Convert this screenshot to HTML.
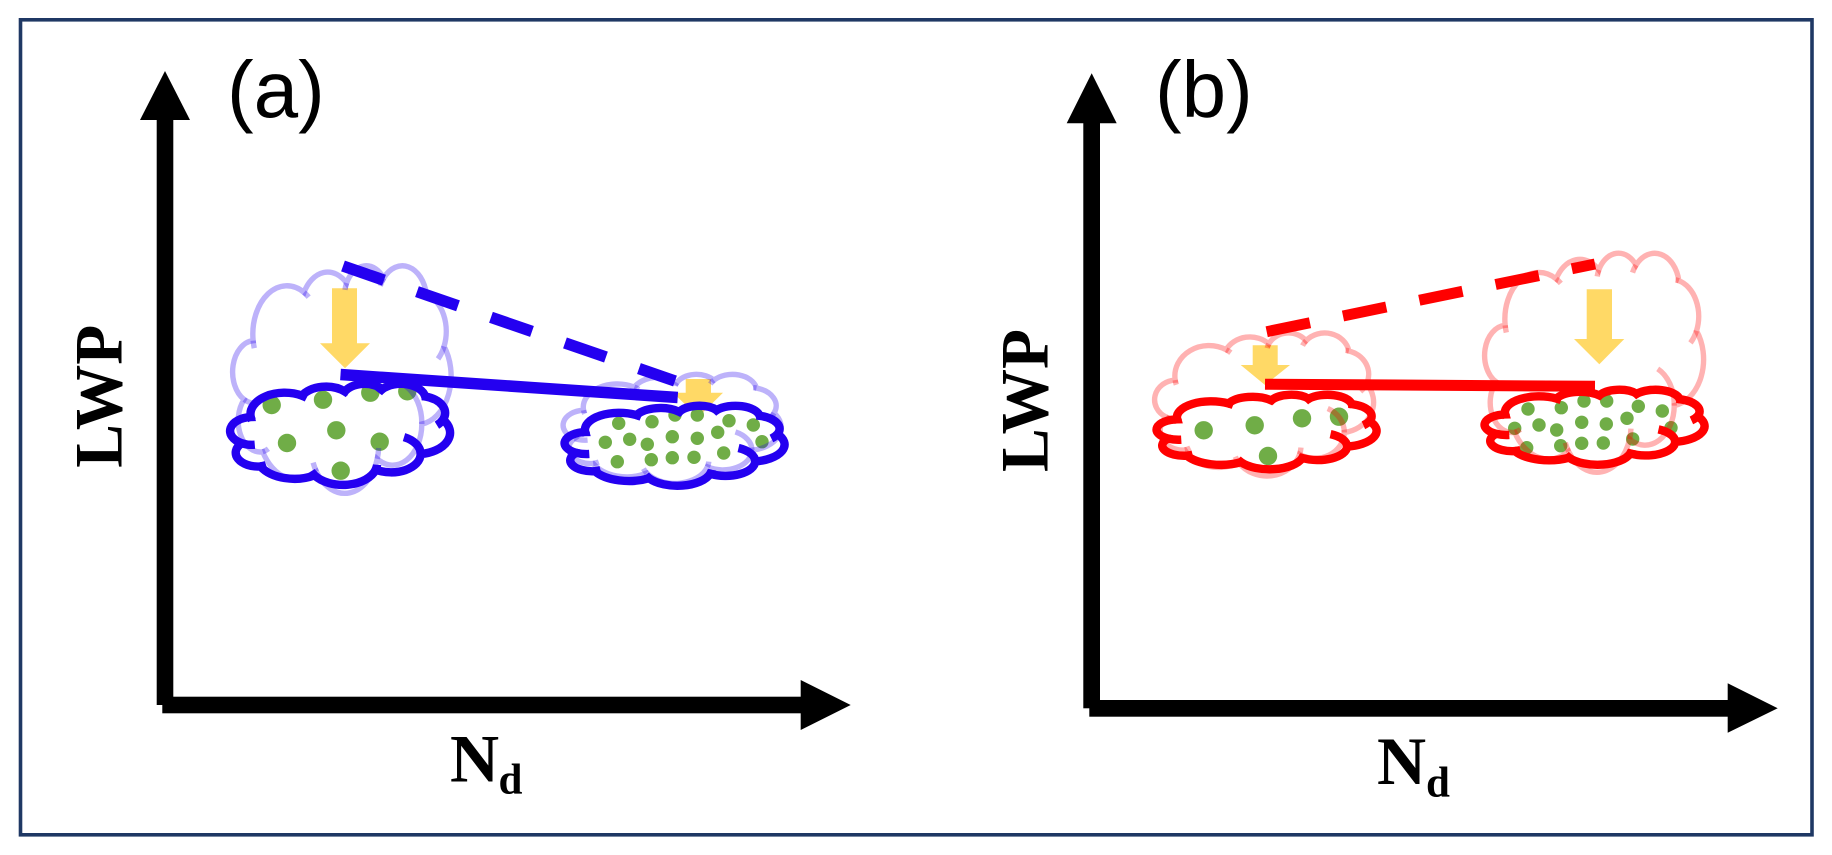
<!DOCTYPE html>
<html>
<head>
<meta charset="utf-8">
<style>
html,body{margin:0;padding:0;background:#fff;width:1832px;height:855px;overflow:hidden}
svg{display:block}
.pb{fill:none;stroke:#2400F0;stroke-opacity:.3;stroke-width:5.4}
.pr{fill:none;stroke:#FF0000;stroke-opacity:.3;stroke-width:5.4}
.db{fill:none;stroke:#2400F0;stroke-width:8.4}
.dr{fill:none;stroke:#FF0000;stroke-width:8.4}
.g circle{fill:#70AD47}
.lab{font-family:"Liberation Sans",sans-serif;font-size:80px;fill:#000}
.ser{font-family:"Liberation Serif",serif;font-weight:bold;fill:#000}
</style>
</head>
<body>
<svg width="1832" height="855" viewBox="0 0 1832 855" xmlns="http://www.w3.org/2000/svg">
<defs>
<path id="o" vector-effect="non-scaling-stroke" d="M3900 14370A6753 9190 0 0 1 14005 5203A5333 7267 0 0 1 22455 3434A4365 5945 0 0 1 29832 2482A4857 6595 0 0 1 38317 5577A5333 7273 0 0 1 41818 15460A6775 9220 0 0 1 37404 30204A5785 7867 0 0 1 28555 36815A6752 9215 0 0 1 16478 39262A7720 10543 0 0 1 5803 35468A4360 5918 0 0 1 2113 25543A4345 5945 0 0 1 3900 14370Z"/>
<path id="t" vector-effect="non-scaling-stroke" d="M4693 26177A4345 5945 0 0 1 2113 25543M6928 34899A4360 5918 0 0 1 5803 35468M16478 39262A6752 9215 0 0 1 15812 37525M28827 34751A6752 9215 0 0 1 28555 36815M34129 22954A5785 7867 0 0 1 37404 30204M41818 15460A5333 7273 0 0 1 40621 17826M37657 5392A5333 7273 0 0 1 38317 5577M29135 3959A4857 6595 0 0 1 29832 2482M22141 4720A4365 5945 0 0 1 22455 3434M14005 5203A6753 9190 0 0 1 14932 6092M4127 15789A6753 9190 0 0 1 3900 14370"/>
</defs>

<rect width="1832" height="855" fill="#fff"/>
<rect x="20.5" y="19.8" width="1791.5" height="815" fill="#fff" stroke="#1F3864" stroke-width="3.6"/>

<!-- Panel (a) axes -->
<rect x="156.7" y="115" width="16.6" height="590" fill="#000"/>
<polygon points="165,71 190,120 140,120" fill="#000"/>
<rect x="162.3" y="696.7" width="640" height="16.6" fill="#000"/>
<polygon points="850.7,705 800.7,680 800.7,730" fill="#000"/>
<!-- Panel (b) axes -->
<rect x="1083.3" y="118" width="16.7" height="590.3" fill="#000"/>
<polygon points="1091.7,73.3 1116.7,123.3 1066.7,123.3" fill="#000"/>
<rect x="1089.3" y="700" width="640" height="16.7" fill="#000"/>
<polygon points="1777.7,708.3 1727.7,683.3 1727.7,732.7" fill="#000"/>

<!-- Labels -->
<text class="lab" x="227" y="117">(a)</text>
<text class="lab" x="1155" y="117">(b)</text>
<text class="ser" font-size="68" textLength="143" lengthAdjust="spacingAndGlyphs" transform="translate(121.7,467.8) rotate(-90)">LWP</text>
<text class="ser" font-size="68" textLength="143" lengthAdjust="spacingAndGlyphs" transform="translate(1047.7,472) rotate(-90)">LWP</text>
<text class="ser" font-size="68" x="450" y="781.5">N</text>
<text class="ser" font-size="43" x="498.5" y="793.5">d</text>
<text class="ser" font-size="68" x="1377" y="784">N</text>
<text class="ser" font-size="43" x="1426" y="796.5">d</text>

<!-- Orange arrows -->
<g fill="#FFD966">
<polygon points="332,288.3 357,288.3 357,343.3 370,343.3 345,368.3 320,343.3 332,343.3"/>
<polygon points="685.7,379 711,379 711,392.7 723,392.7 698.3,417 673,392.7 685.7,392.7"/>
<polygon points="1252.7,345.3 1277.7,345.3 1277.7,365 1290,365 1265,385 1240.7,365 1252.7,365"/>
<polygon points="1586.7,289.3 1612,289.3 1612,339 1624.3,339 1599.3,364.3 1574,339 1586.7,339"/>
</g>

<!-- Droplets -->
<g class="g">
<circle cx="271.7" cy="405" r="9.2"/><circle cx="323" cy="399.7" r="9.2"/><circle cx="370.3" cy="392.7" r="9.2"/><circle cx="407.3" cy="391.3" r="9.2"/><circle cx="287" cy="443" r="9.2"/><circle cx="336.3" cy="430.3" r="9.2"/><circle cx="379.7" cy="441.7" r="9.2"/><circle cx="340.7" cy="470.7" r="9.2"/>
<circle cx="618.7" cy="423.3" r="6.7"/><circle cx="652" cy="421.7" r="6.7"/><circle cx="675" cy="415" r="6.7"/><circle cx="697.3" cy="415" r="6.7"/><circle cx="729" cy="420.7" r="6.7"/><circle cx="753.3" cy="425" r="6.7"/><circle cx="605.3" cy="442.3" r="6.7"/><circle cx="629.7" cy="439.3" r="6.7"/><circle cx="647.3" cy="444.3" r="6.7"/><circle cx="672.3" cy="436.7" r="6.7"/><circle cx="697.3" cy="438.3" r="6.7"/><circle cx="717.7" cy="432.3" r="6.7"/><circle cx="762" cy="441.7" r="6.7"/><circle cx="617.3" cy="461.7" r="6.7"/><circle cx="651.3" cy="459.7" r="6.7"/><circle cx="672.3" cy="457.7" r="6.7"/><circle cx="694" cy="457.3" r="6.7"/><circle cx="723.7" cy="453" r="6.7"/>
<circle cx="1203.7" cy="430.3" r="9.2"/><circle cx="1254.7" cy="425.3" r="9.2"/><circle cx="1302" cy="418.3" r="9.2"/><circle cx="1339" cy="416.7" r="9.2"/><circle cx="1268" cy="456" r="9.2"/>
<circle cx="1528" cy="409" r="6.7"/><circle cx="1561.3" cy="407.7" r="6.7"/><circle cx="1584" cy="401" r="6.7"/><circle cx="1606.7" cy="401" r="6.7"/><circle cx="1638.3" cy="406.3" r="6.7"/><circle cx="1662.3" cy="411" r="6.7"/><circle cx="1514.7" cy="428.3" r="6.7"/><circle cx="1539" cy="425" r="6.7"/><circle cx="1556.7" cy="430" r="6.7"/><circle cx="1581.7" cy="422.3" r="6.7"/><circle cx="1606.3" cy="424" r="6.7"/><circle cx="1627" cy="418.3" r="6.7"/><circle cx="1671" cy="427.7" r="6.7"/><circle cx="1526.7" cy="447.7" r="6.7"/><circle cx="1560.7" cy="445.7" r="6.7"/><circle cx="1581.7" cy="443.3" r="6.7"/><circle cx="1603.3" cy="443" r="6.7"/><circle cx="1632.7" cy="439" r="6.7"/>
</g>

<!-- Pale clouds -->
<g class="pb" transform="translate(233.5,265) scale(.005035,.005266)"><use href="#o"/><use href="#t"/></g>
<g class="pb" transform="translate(564,374) scale(.005023,.002523)"><use href="#o"/><use href="#t"/></g>
<g class="pr" transform="translate(1155.5,332.5) scale(.005046,.00331)"><use href="#o"/><use href="#t"/></g>
<g class="pr" transform="translate(1485.5,252.5) scale(.005046,.005069)"><use href="#o"/><use href="#t"/></g>

<!-- Strong clouds -->
<g class="db" transform="translate(231,383.5) scale(.005069,.002338)"><use href="#o"/><use href="#t"/></g>
<g class="db" transform="translate(565.5,405.5) scale(.005069,.001852)"><use href="#o"/><use href="#t"/></g>
<g class="dr" transform="translate(1157.5,394.5) scale(.005069,.001725)"><use href="#o"/><use href="#t"/></g>
<g class="dr" transform="translate(1485.5,389.5) scale(.005069,.001736)"><use href="#o"/><use href="#t"/></g>

<!-- Trend lines -->
<line x1="343" y1="266" x2="675" y2="381" stroke="#2400F0" stroke-width="11.5" stroke-dasharray="43.4 34.9"/>
<line x1="340.5" y1="374.5" x2="677.7" y2="397.5" stroke="#2400F0" stroke-width="11.5"/>
<line x1="1266.7" y1="331.7" x2="1595" y2="264" stroke="#FF0000" stroke-width="11" stroke-dasharray="44.2 33.7"/>
<line x1="1265" y1="384.2" x2="1595" y2="386.3" stroke="#FF0000" stroke-width="11"/>
</svg>
</body>
</html>
